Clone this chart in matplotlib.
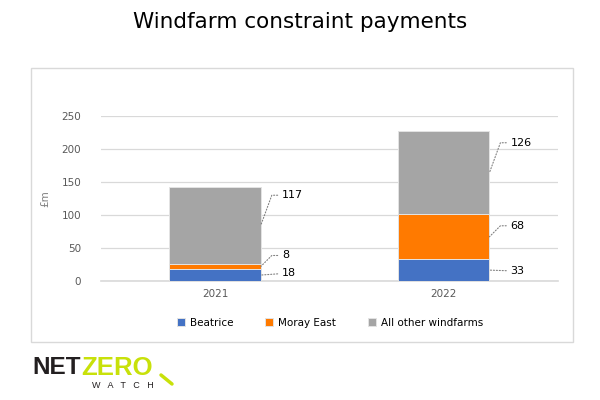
import numpy as np
import matplotlib.pyplot as plt
from matplotlib.patches import Rectangle
from matplotlib.lines import Line2D

years = ['2021', '2022']
series_names = ['Beatrice', 'Moray East', 'All other windfarms']
beatrice = [18, 33]
moray_east = [8, 68]
other = [117, 126]
colours = ['#4472C4', '#FF7A00', '#A5A5A5']
yticks = [0, 50, 100, 150, 200, 250]

# label offsets (pixels) from the right edge of each segment, per series per year
label_dy = [[2, -1], [11, 11], [30, 30]]

fig = plt.figure(figsize=(6, 4), dpi=100)
fig.patches.append(Rectangle((31 / 600, 1 - 342 / 400), 542 / 600, 274 / 400,
                             transform=fig.transFigure, fill=False,
                             edgecolor='#d9d9d9', lw=1))

ax = fig.add_axes([0.168, 0.2975, 0.762, 0.4125])
x = np.arange(len(years))
width = 0.4
bottom = np.zeros(len(years))
for i, (vals, name) in enumerate(zip([beatrice, moray_east, other], series_names)):
    ax.bar(x, vals, width, bottom=bottom, color=colours[i], label=name,
           edgecolor='#e3e3e3', linewidth=0.7, zorder=3)
    for j, v in enumerate(vals):
        dy = label_dy[i][j]
        xy = (x[j] + width / 2, bottom[j] + v / 2)
        if abs(dy) > 3:
            ang = np.degrees(np.arctan2(dy, 11))
            cs = f'angle,angleA=0,angleB={ang:.1f},rad=0'
        else:
            cs = 'arc3'
        ax.annotate(str(v), xy=xy, xytext=(21, dy), textcoords='offset pixels',
                    ha='left', va='center', fontsize=8, color='black',
                    arrowprops=dict(arrowstyle='-', linestyle=':', color='#808080',
                                    lw=0.8, shrinkB=0, shrinkA=1,
                                    connectionstyle=cs))
    bottom += np.array(vals)

ax.set_xlim(-0.5, 1.5)
ax.set_ylim(0, 250)
ax.set_yticks(yticks)
ax.set_xticks(x)
ax.set_xticklabels(years)
ax.tick_params(length=0, labelsize=7.5, labelcolor='#595959', pad=6)
ax.tick_params(axis='y', pad=14)
ax.grid(axis='y', color='#d9d9d9', lw=0.9, zorder=0)
ax.axhline(0, color='#d9d9d9', lw=1.2, zorder=2, clip_on=False)
for s in ax.spines.values():
    s.set_visible(False)
ax.set_ylabel('£m', color='#7f7f7f', fontsize=7.5, labelpad=8)

handles, labels = ax.get_legend_handles_labels()
fig.legend(handles, labels, loc='center', bbox_to_anchor=(0.55, 1 - 323 / 400),
           ncol=3, frameon=False, fontsize=7.5, handlelength=0.8, handleheight=0.8,
           handletextpad=0.5, columnspacing=3.0)

fig.text(0.5, 1 - 22 / 400, 'Windfarm constraint payments', ha='center', va='center',
         fontsize=15.5, color='black')

# logo
fig.text(32 / 600, 1 - 368 / 400, 'NET', fontsize=17.5, fontweight='bold',
         family='Liberation Sans', color='#231f20', ha='left', va='center')
fig.text(81 / 600, 1 - 368 / 400, 'ZERO', fontsize=18.5, fontweight='bold',
         family='Liberation Sans', color='#C8E10A', ha='left', va='center')
fig.text(123 / 600, 1 - 386 / 400, 'W   A   T   C   H', fontsize=6.5, color='#231f20',
         family='Liberation Sans', ha='center', va='center')
fig.lines.append(Line2D([161 / 600, 172 / 600], [1 - 375 / 400, 1 - 384 / 400],
                        transform=fig.transFigure, color='#C8E10A', lw=2.5,
                        solid_capstyle='round'))

fig.savefig('out.png', dpi=100)
